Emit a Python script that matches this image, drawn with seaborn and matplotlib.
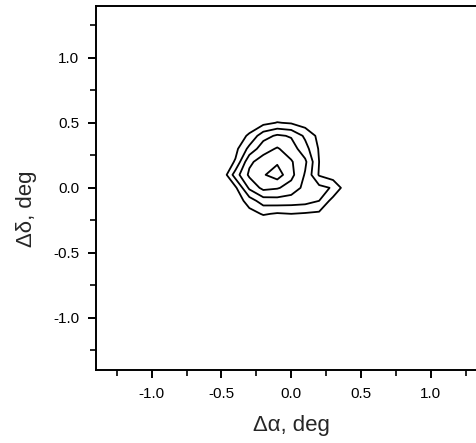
import numpy as np
import seaborn as sns
import matplotlib
matplotlib.use("Agg")
import matplotlib.pyplot as plt
from matplotlib.ticker import MultipleLocator

# grid of the map (deg)
dalpha = [-0.6, -0.5, -0.4, -0.3, -0.2, -0.1, 0.0, 0.1, 0.2, 0.3, 0.4, 0.5]
ddelta = [0.6, 0.5, 0.4, 0.3, 0.2, 0.1, 0.0, -0.1, -0.2, -0.3, -0.4]

# intensity, one row per ddelta (top to bottom)
row_p06 = [0, 0, 0, 0, 0, 0, 0, 0, 0, 0, 0, 0]
row_p05 = [0, 0, 0, 0.2, 0.7, 1.05, 0.9, 0.5, 0, 0, 0, 0]
row_p04 = [0, 0, 0.3, 1.2, 2.6, 3.16, 2.9, 1.8, 0.7, 0.1, 0, 0]
row_p03 = [0, 0, 0.7, 2.3, 3.6, 4.1, 3.5, 2.4, 0.9, 0.1, 0, 0]
row_p02 = [0, 0.2, 1.1, 3.8, 4.45, 4.85, 4.1, 3.2, 1.0, 0.2, 0, 0]
row_p01 = [0, 0.1, 2.5, 4.2, 4.9, 5.5, 4.3, 2.9, 0.9, 0.4, 0, 0]
row_000 = [0, 0, 0.8, 3.2, 4.3, 4.1, 3.6, 2.7, 2.3, 1.9, 0.3, 0]
row_m01 = [0, 0, 0.3, 1.5, 2.5, 2.6, 2.5, 2.4, 2.0, 0.6, 0, 0]
row_m02 = [0, 0, 0, 0.6, 1.1, 0.9, 1.0, 0.9, 0.8, 0.1, 0, 0]
row_m03 = [0, 0, 0, 0, 0, 0, 0, 0, 0, 0, 0, 0]
row_m04 = [0, 0, 0, 0, 0, 0, 0, 0, 0, 0, 0, 0]

levels = [1, 2, 3, 4, 5]

sns.set_style("ticks")
plt.rcParams['font.family'] = ['Liberation Sans', 'DejaVu Sans']
plt.rcParams['axes.unicode_minus'] = False

Z = np.array([row_p06, row_p05, row_p04, row_p03, row_p02, row_p01,
              row_000, row_m01, row_m02, row_m03, row_m04])
X, Y = np.meshgrid(dalpha, ddelta)

fig = plt.figure(figsize=(4.77, 4.43), dpi=100)
ax = fig.add_axes([0.201, 0.165, 0.819, 0.822])

ax.contour(X, Y, Z, levels=levels, colors='black', linewidths=1.3)

ax.set_xlim(-1.4, 1.4)
ax.set_ylim(-1.4, 1.4)
ax.xaxis.set_major_locator(MultipleLocator(0.5))
ax.xaxis.set_minor_locator(MultipleLocator(0.25))
ax.yaxis.set_major_locator(MultipleLocator(0.5))
ax.yaxis.set_minor_locator(MultipleLocator(0.25))
ax.xaxis.set_major_formatter(plt.FormatStrFormatter('%.1f'))
ax.yaxis.set_major_formatter(plt.FormatStrFormatter('%.1f'))

ax.tick_params(which='major', direction='out', length=6, width=1.4,
               labelsize=11, colors='black', pad=6)
ax.tick_params(which='minor', direction='out', length=4, width=1.4)
ax.tick_params(top=False, right=False, which='both')
for s in ax.spines.values():
    s.set_linewidth(1.4)
    s.set_color('black')

ax.set_xlabel('Δα, deg', fontsize=16)
ax.set_ylabel('Δδ, deg', fontsize=16)
ax.xaxis.set_label_coords(0.5, -0.124)
ax.yaxis.set_label_coords(-0.151, 0.442)

fig.savefig('out.png', dpi=100)
